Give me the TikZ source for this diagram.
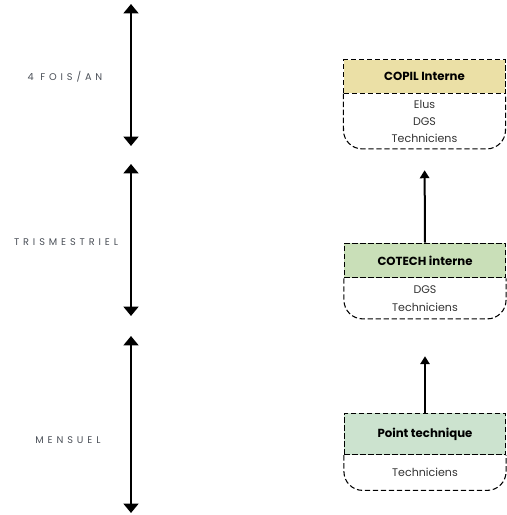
\documentclass[tikz,border=0pt]{standalone}
\usepackage{fontspec}
\setmainfont{Poppins}
\usetikzlibrary{arrows.meta,positioning}
\definecolor{copilfill}{HTML}{EBE0A6}
\definecolor{cotechfill}{HTML}{C9DFB8}
\definecolor{pointfill}{HTML}{CCE3CF}
\definecolor{labelgray}{HTML}{4A4F57}
\begin{document}
\begin{tikzpicture}[x=0.75pt,y=-0.75pt,
    head/.style={draw, dash pattern=on 4pt off 2pt, line width=0.8pt, minimum width=121pt, inner sep=0pt,
      font=\fontsize{8.8}{10}\selectfont\bfseries},
    body/.style={minimum width=121pt, inner sep=0pt, align=center, text=black!80,
      font=\fontsize{8.3}{12.8}\selectfont},
    freq/.style={font=\fontsize{7.3}{8}\addfontfeature{LetterSpace=40}\selectfont, text=labelgray},
    period/.style={line width=2.2pt, {Triangle[width=11pt,length=7pt]}-{Triangle[width=11pt,length=7pt]}},
    up/.style={line width=1.5pt, -{Triangle[width=7pt,length=6pt]}}]
    \useasboundingbox (0,0) rectangle (507,515);

      % periods
      \node[freq] (fois) at (65,77) {4 FOIS/AN};
      \node[freq] (trim) at (66,242) {TRISMESTRIEL};
      \node[freq] (mens) at (68,440) {MENSUEL};
      \coordinate (f1) at (131,4);   \coordinate (f2) at (131,146);
      \coordinate (t1) at (131,164); \coordinate (t2) at (131,316);
      \coordinate (m1) at (131,336); \coordinate (m2) at (131,513);
      \draw[period] (f1) -- (f2);
      \draw[period] (t1) -- (t2);
      \draw[period] (m1) -- (m2);

      % instances
      \node[head, fill=copilfill, minimum height=25pt] (copil) at (424.5,76.5) {COPIL Interne};
      \node[body, minimum height=41pt, below=0pt of copil] (copilb) {Elus\\DGS\\Techniciens};
      \node[head, fill=cotechfill, minimum height=26pt] (cotech) at (425,260.5) {COTECH interne};
      \node[body, minimum height=30pt, below=0pt of cotech] (cotechb) {DGS\\Techniciens};
      \node[head, fill=pointfill, minimum height=31pt] (point) at (425,434) {Point technique};
      \node[body, minimum height=26pt, below=0pt of point] (pointb) {Techniciens};

      \foreach \n in {copil, cotech, point}
        \draw[dash pattern=on 4pt off 2pt, line width=0.8pt, rounded corners=14pt]
          (\n.south west) -- (\n b.south west) -- (\n b.south east) -- (\n.south east);

      \draw[up, shorten >=16pt] (cotech.north) -- (copilb.south);
      \draw[up, shorten >=28pt] (point.north) -- (cotechb.south);

\end{tikzpicture}
\end{document}
